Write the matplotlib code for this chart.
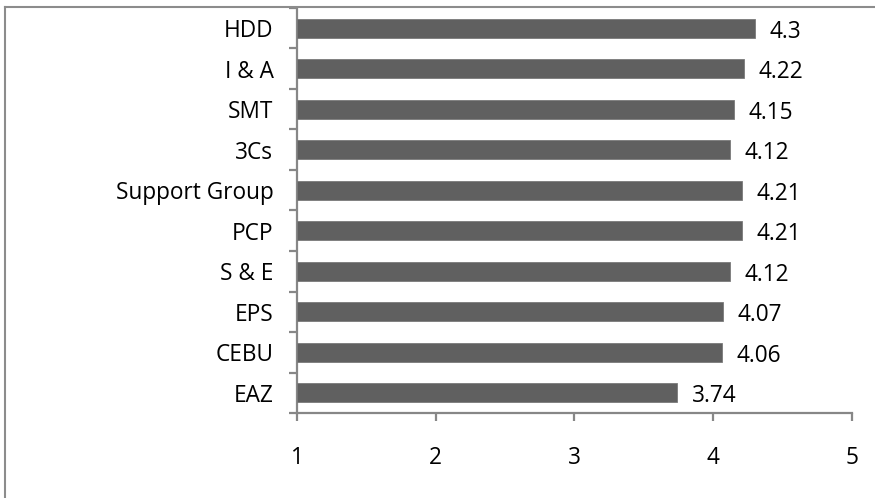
import matplotlib
matplotlib.use("Agg")
import matplotlib.pyplot as plt
from matplotlib.lines import Line2D
from matplotlib.ticker import FixedLocator, NullFormatter

plt.rcParams['font.family'] = ['Open Sans', 'DejaVu Sans']

categories = ["EAZ", "CEBU", "EPS", "S & E", "PCP", "Support Group",
              "3Cs", "SMT", "I & A", "HDD"]
scores = [3.74, 4.06, 4.07, 4.12, 4.21, 4.21, 4.12, 4.15, 4.22, 4.3]
score_labels = ["3.74", "4.06", "4.07", "4.12", "4.21", "4.21",
                "4.12", "4.15", "4.22", "4.3"]
x_ticks = [1, 2, 3, 4, 5]

W, H = 875, 498
FS = 16.3
fig = plt.figure(figsize=(W / 100, H / 100), dpi=100)

# chart-area frame (runs off the right and bottom edges)
frame_kw = dict(color="#8c8c8c", lw=1.5, transform=fig.transFigure, clip_on=False)
fig.add_artist(Line2D([5 / W, 5 / W], [1 - 7 / H, -0.1], **frame_kw))
fig.add_artist(Line2D([5 / W, 1.1], [1 - 7 / H, 1 - 7 / H], **frame_kw))

left, right, top, bottom = 297, 852, 8, 413
ax = fig.add_axes([left / W, 1 - bottom / H, (right - left) / W, (bottom - top) / H])

base = x_ticks[0]
y = list(range(len(categories)))
ax.barh(y, [s - base for s in scores], left=base, height=0.47,
        color="#606060", edgecolor="#7a7a7a", linewidth=0.6, zorder=3)

for yi, s, lab in zip(y, scores, score_labels):
    ax.annotate(lab, xy=(s, yi), xytext=(10.5, -2.5), textcoords="offset points",
                ha="left", va="center", fontsize=FS, color="black")

ax.set_xlim(x_ticks[0], x_ticks[-1])
ax.set_ylim(-0.5, len(categories) - 0.5)
ax.set_xticks(x_ticks)
ax.set_xticklabels([str(t) for t in x_ticks])
ax.set_yticks(y)
ax.set_yticklabels(categories)
ax.yaxis.set_minor_locator(FixedLocator([i - 0.5 for i in range(len(categories) + 1)]))
ax.yaxis.set_minor_formatter(NullFormatter())

spine_c = "#878787"
for side in ("top", "right"):
    ax.spines[side].set_visible(False)
for side in ("left", "bottom"):
    ax.spines[side].set_color(spine_c)
    ax.spines[side].set_linewidth(1.6)

ax.tick_params(axis="y", which="major", length=0, pad=17, labelsize=FS)
ax.tick_params(axis="y", which="minor", length=6, width=1.6, color=spine_c, direction="out")
ax.tick_params(axis="x", which="major", length=6, width=1.6, color=spine_c,
               direction="out", pad=18, labelsize=FS)

fig.savefig("out.png", dpi=100)
